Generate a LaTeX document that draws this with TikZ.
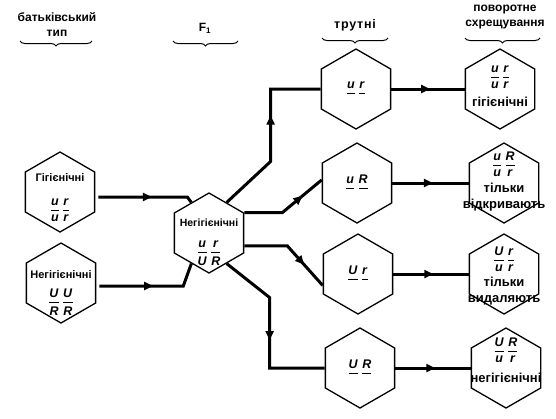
\documentclass[tikz,border=0pt]{standalone}
\usepackage{amsmath}
\usepackage{fontspec}
\setmainfont{Liberation Sans}
\usetikzlibrary{arrows.meta, positioning, calc, shapes.geometric, decorations.pathreplacing, decorations.markings}

\newcommand{\gfr}[2]{$\genfrac{}{}{1.3pt}{0}{\textbf{\textit{#1}}}{\textbf{\textit{#2}}}$}
\newcommand{\drn}[1]{$\genfrac{}{}{1.3pt}{0}{\textbf{\textit{#1}}}{}$}

\begin{document}
\begin{tikzpicture}[x=1pt, y=-1pt,
  hex/.style={draw, line width=1.3pt, regular polygon, regular polygon sides=6,
    shape border rotate=30, minimum size=80pt, inner sep=0pt},
  link/.style={line width=3pt},
  arr/.style={postaction={decorate}, decoration={markings,
    mark=at position #1 with {\arrow{Triangle[length=9pt,width=8pt]}}}},
  head/.style={font=\bfseries\fontsize{12}{15}\selectfont, align=center},
  txt/.style={font=\bfseries\fontsize{11}{12}\selectfont},
  gen/.style={font=\bfseries\fontsize{12.5}{14}\selectfont, inner sep=0pt},
  big/.style={font=\bfseries\fontsize{13}{16.5}\selectfont, align=center},
  brc/.style={decorate, decoration={brace, mirror, amplitude=5pt}, line width=1pt}]
  \useasboundingbox (0,0) rectangle (556,418);

  \node[head] (hParent) at (57,25) {батьківський\\тип};
  \node[head] (hF) at (205,28) {F\textsubscript{1}};
  \node[head, font=\bfseries\fontsize{12.5}{15}\selectfont] (hDrone) at (355,25) {\addfontfeature{LetterSpace=6}трутні};
  \node[head] (hBack) at (505,17) {поворотне\\схрещування};
  \draw[brc] (20,41) -- (92,41);
  \draw[brc] (173,41) -- (238,41);
  \draw[brc] (322,38) -- (388,38);
  \draw[brc] (465,38) -- (540,38);

  \node[hex] (hyg) at (60,192) {};
  \node[hex] (nonhyg) at (61,283) {};
  \node[hex] (f1) at (209,233) {};
  \node[hex] (d1) at (356,89) {};
  \node[hex] (d2) at (357,183) {};
  \node[hex] (d3) at (358,274) {};
  \node[hex] (d4) at (360,368) {};
  \node[hex] (b1) at (500,89) {};
  \node[hex] (b2) at (504,183) {};
  \node[hex] (b3) at (504,274) {};
  \node[hex] (b4) at (506,368) {};

  \node[txt] (tHyg) at ($(hyg)+(0,-14)$) {Гігієнічні};
  \node[gen] (gHyg) at ($(hyg)+(0,18)$) {\gfr{u}{u}\,\gfr{r}{r}};
  \node[txt] (tNon) at ($(nonhyg)+(0,-8)$) {Негігієнічні};
  \node[gen] (gNon) at ($(nonhyg)+(0,19)$) {\gfr{U}{R}\,\gfr{U}{R}};
  \node[txt, font=\bfseries\fontsize{10.5}{12}\selectfont] (tF) at ($(f1)+(0,-10)$) {Негігієнічні};
  \node[gen] (gF) at ($(f1)+(0,20)$) {\gfr{u}{U}\,\gfr{r}{R}};

  \node[gen] (gD1) at ($(d1)+(0,4)$) {\drn{u}\,\drn{r}};
  \node[gen] (gD2) at ($(d2)+(0,4)$) {\drn{u}\,\drn{R}};
  \node[gen] (gD3) at ($(d3)+(0,4)$) {\drn{U}\,\drn{r}};
  \node[gen] (gD4) at ($(d4)+(0,4)$) {\drn{U}\,\drn{R}};

  \node[gen] (gB1) at ($(b1)+(0,-12)$) {\gfr{u}{u}\,\gfr{r}{r}};
  \node[big] (tB1) at ($(b1)+(0,13)$) {гігієнічні};
  \node[gen] (gB2) at ($(b2)+(0,-19)$) {\gfr{u}{u}\,\gfr{R}{r}};
  \node[big] (tB2) at ($(b2)+(0,14)$) {тільки\\відкривають};
  \node[gen] (gB3) at ($(b3)+(0,-15)$) {\gfr{U}{u}\,\gfr{r}{r}};
  \node[big] (tB3) at ($(b3)+(0,17)$) {тільки\\видаляють};
  \node[gen] (gB4) at ($(b4)+(0,-18)$) {\gfr{U}{u}\,\gfr{R}{r}};
  \node[big] (tB4) at ($(b4)+(0,10)$) {негігієнічні};

  \draw[link, arr=0.56] ($(hyg.east)+(3,5)$) -- ++(89,0) -- (f1.120);
  \draw[link, arr=0.5] ($(nonhyg.east)+(3,3)$) -- ++(84,0) -- (f1.240);
  \draw[link, arr=0.58] (f1.60) -- ++(44,-41) |- (d1.west);
  \draw[link, arr=0.72] (f1.30) -- ++(38,0) -- (d2.175);
  \draw[link, arr=0.71] (f1.340) -- ++(43,0) -- (d3.198);
  \draw[link, arr=0.54] (f1.300) -- ++(43,34) |- (d4.west);
  \foreach \i in {1,...,4}
    \draw[link, arr=0.53] (d\i.east) -- (b\i.west);
\end{tikzpicture}
\end{document}
